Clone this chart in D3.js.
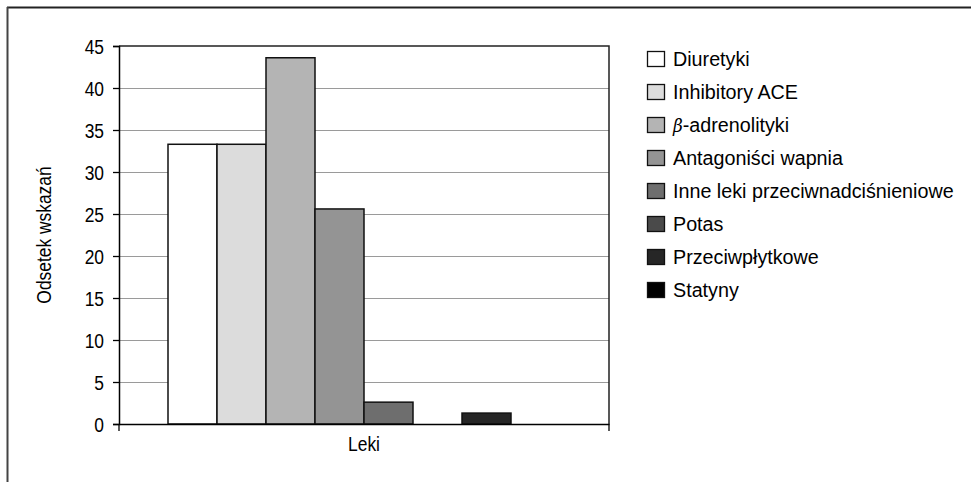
<!DOCTYPE html>
<html><head><meta charset="utf-8">
<script src="https://cdn.jsdelivr.net/npm/d3@7"></script>
<style>
body{margin:0;background:#fff;}
text{font-family:"Liberation Sans","Arial",sans-serif;fill:#000;}
</style></head>
<body><svg id="c" width="971" height="482"></svg>
<script>
const series = ["Diuretyki","Inhibitory ACE","β-adrenolityki","Antagoniści wapnia","Inne leki przeciwnadciśnieniowe","Potas","Przeciwpłytkowe","Statyny"];
const values = [33.3, 33.3, 43.6, 25.6, 2.6, 0, 1.3, 0];
const colors = ["#ffffff","#dcdcdc","#b4b4b4","#949494","#6e6e6e","#4a4a4a","#262626","#000000"];
const categories = ["Leki"];
const yTicks = [0,5,10,15,20,25,30,35,40,45];

const svg = d3.select("#c");
const L=119, R=609, T=46, B=424;
const SX = 0.87;

// outer frame (top and left)
svg.append("line").attr("x1",7).attr("x2",971).attr("y1",7.5).attr("y2",7.5).attr("stroke","#222").attr("stroke-width",2);
svg.append("line").attr("x1",7.5).attr("x2",7.5).attr("y1",7).attr("y2",482).attr("stroke","#444").attr("stroke-width",2);

const y = d3.scaleLinear().domain([0,45]).range([B,T]);
const x0 = d3.scaleBand().domain(categories).range([L,R]).padding(0);
const groupPad = (R-L)*0.1;
const x1 = d3.scaleBand().domain(series).range([groupPad, (R-L)-groupPad]);

// gridlines
svg.append("g").selectAll("line").data(yTicks.filter(d=>d>0 && d<45)).join("line")
  .attr("x1",L).attr("x2",R).attr("y1",d=>Math.round(y(d))+0.5).attr("y2",d=>Math.round(y(d))+0.5)
  .attr("stroke","#9a9a9a").attr("stroke-width",1.2);

// bars
svg.append("g").selectAll("rect").data(series.map((s,i)=>({s,v:values[i],c:colors[i]}))).join("rect")
  .attr("x",d=>x0(categories[0])+x1(d.s))
  .attr("width",x1.bandwidth())
  .attr("y",d=>y(d.v))
  .attr("height",d=>B-y(d.v))
  .attr("fill",d=>d.c)
  .attr("stroke","#111").attr("stroke-width",1.5);

// plot frame top/right
svg.append("path").attr("d",`M${L},${T}H${R}V${B}`).attr("fill","none").attr("stroke","#222").attr("stroke-width",1.5);

// y axis
const ya = svg.append("g").attr("transform",`translate(${L},0)`)
  .call(d3.axisLeft(y).tickValues(yTicks).tickSize(6).tickPadding(9));
ya.select(".domain").attr("stroke","#000").attr("stroke-width",1.5);
ya.selectAll(".tick line").attr("stroke","#000").attr("stroke-width",1.3);
ya.selectAll("text").attr("font-size",20).attr("font-family",null)
  .attr("x",0).attr("dy","0.36em").attr("transform",`translate(-15,0) scale(${SX},1)`);

// x axis
const xa = svg.append("g").attr("transform",`translate(0,${B})`)
  .call(d3.axisBottom(x0).tickSize(0).tickPadding(14));
xa.select(".domain").attr("stroke","#000").attr("stroke-width",1.5);
xa.selectAll("text").attr("font-size",20).attr("font-family",null)
  .attr("y",0).attr("dy",0).attr("transform",`translate(0,27) scale(${SX},1)`);
// edge ticks
svg.append("g").selectAll("line").data([L,R]).join("line")
  .attr("x1",d=>d).attr("x2",d=>d).attr("y1",B).attr("y2",B+7)
  .attr("stroke","#000").attr("stroke-width",1.3);

// y title
svg.append("text").attr("transform",`translate(51,${(T+B)/2}) rotate(-90) scale(${SX},1)`)
  .attr("text-anchor","middle").attr("font-size",20).text("Odsetek wskazań");

// legend
const lg = svg.append("g").attr("transform","translate(647,51)");
series.forEach((s,i)=>{
  const g = lg.append("g").attr("transform",`translate(0,${i*33})`);
  g.append("rect").attr("x",0.5).attr("y",0.5).attr("width",17).attr("height",15)
    .attr("fill",colors[i]).attr("stroke","#111").attr("stroke-width",1.3);
  const t = g.append("text").attr("transform","translate(26,14.5) scale(0.94,1)").attr("font-size",21);
  if (s.startsWith("β")) {
    t.append("tspan").attr("font-family","'DejaVu Serif','Liberation Serif',serif").attr("font-style","italic").attr("font-size",18).text("β");
    t.append("tspan").text(s.slice(1));
  } else t.text(s);
});
</script></body></html>
